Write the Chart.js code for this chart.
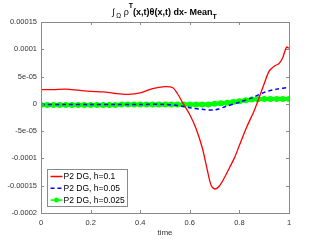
<!DOCTYPE html>
<html>
<head>
<meta charset="utf-8">
<script src="https://cdn.jsdelivr.net/npm/chart.js@4"></script>
<style>
  html, body { margin: 0; padding: 0; background: #fff; }
  #wrap { width: 320px; height: 240px; }
</style>
</head>
<body>
<div id="wrap"><canvas id="myChart" width="320" height="240"></canvas></div>
<script>
const seriesLabels = ["P2 DG, h=0.1", "P2 DG, h=0.05", "P2 DG, h=0.025"];

// h=0.1 (red)
const redX = [0, 0.05, 0.1, 0.15, 0.2, 0.25, 0.3, 0.35, 0.4, 0.45, 0.5, 0.53, 0.55, 0.57, 0.6, 0.625, 0.65, 0.67, 0.685, 0.7, 0.72, 0.74, 0.76, 0.78, 0.8, 0.83, 0.86, 0.88, 0.9, 0.92, 0.94, 0.96, 0.975, 0.99, 1.0];
const redY = [2.6e-5, 2.6e-5, 2.7e-5, 2.5e-5, 2.3e-5, 2.2e-5, 1.9e-5, 1.75e-5, 2.0e-5, 2.8e-5, 3.15e-5, 3.0e-5, 1.9e-5, 0.3e-5, -2.0e-5, -4.5e-5, -8.0e-5, -12.0e-5, -14.8e-5, -15.6e-5, -15.0e-5, -13.5e-5, -11.7e-5, -9.9e-5, -7.6e-5, -4.2e-5, -1.2e-5, 1.2e-5, 3.7e-5, 6.0e-5, 6.9e-5, 7.4e-5, 8.5e-5, 10.4e-5, 10.2e-5];

// h=0.05 (blue dashed)
const blueX = [0, 0.1, 0.2, 0.3, 0.4, 0.5, 0.55, 0.6, 0.65, 0.7, 0.75, 0.8, 0.85, 0.9, 0.95, 1.0];
const blueY = [-0.1e-5, -0.1e-5, -0.1e-5, -0.1e-5, -0.1e-5, -0.1e-5, -0.3e-5, -0.7e-5, -1.0e-5, -1.1e-5, -0.4e-5, 0.3e-5, 1.1e-5, 2.1e-5, 2.7e-5, 3.0e-5];

// h=0.025 (green with markers)
const greenX = [0, 0.025, 0.05, 0.075, 0.1, 0.125, 0.15, 0.175, 0.2, 0.225, 0.25, 0.275, 0.3, 0.325, 0.35, 0.375, 0.4, 0.425, 0.45, 0.475, 0.5, 0.525, 0.55, 0.575, 0.6, 0.625, 0.65, 0.675, 0.7, 0.725, 0.75, 0.775, 0.8, 0.825, 0.85, 0.875, 0.9, 0.925, 0.95, 0.975, 1.0];
const greenY = [-0.2e-5, -0.2e-5, -0.2e-5, -0.2e-5, -0.2e-5, -0.2e-5, -0.2e-5, -0.2e-5, -0.2e-5, -0.2e-5, -0.2e-5, -0.2e-5, -0.2e-5, -0.1e-5, -0.1e-5, -0.1e-5, -0.1e-5, -0.1e-5, -0.1e-5, -0.1e-5, -0.1e-5, -0.1e-5, -0.1e-5, -0.1e-5, -0.1e-5, -0.1e-5, -0.1e-5, -0.1e-5, 0, 0.1e-5, 0.2e-5, 0.35e-5, 0.5e-5, 0.65e-5, 0.8e-5, 0.85e-5, 0.9e-5, 0.9e-5, 0.9e-5, 0.9e-5, 0.9e-5];

const xTicks = [0, 0.2, 0.4, 0.6, 0.8, 1];
const xTickLabels = ["0", "0.2", "0.4", "0.6", "0.8", "1"];
const yTicks = [0.00015, 0.0001, 0.00005, 0, -0.00005, -0.0001, -0.00015, -0.0002];
const yTickLabels = ["0.00015", "0.0001", "5e-05", "0", "-5e-05", "-0.0001", "-0.00015", "-0.0002"];

const FONT = "'Liberation Sans', Arial, Helvetica, sans-serif";
const AXIS_GREY = "#8a8a8a";
const TEXT_GREY = "#333333";

function pts(xs, ys) {
  return xs.map((x, i) => ({ x: x, y: ys[i] }));
}

// box, inward ticks, legend and title
const matlabLook = {
  id: "matlabLook",
  afterDatasetsDraw(chart) {
    const c = chart.ctx;
    const a = chart.chartArea;
    const xs = chart.scales.x;
    const ys = chart.scales.y;
    c.save();
    c.strokeStyle = AXIS_GREY;
    c.lineWidth = 1;
    c.strokeRect(Math.round(a.left) + 0.5, Math.round(a.top) + 0.5, Math.round(a.right - a.left), Math.round(a.bottom - a.top));
    c.beginPath();
    xTicks.forEach(v => {
      const px = Math.round(xs.getPixelForValue(v)) + 0.5;
      c.moveTo(px, a.bottom); c.lineTo(px, a.bottom - 3);
      c.moveTo(px, a.top); c.lineTo(px, a.top + 3);
    });
    yTicks.forEach(v => {
      const py = Math.round(ys.getPixelForValue(v)) + 0.5;
      c.moveTo(a.left, py); c.lineTo(a.left + 3, py);
      c.moveTo(a.right, py); c.lineTo(a.right - 3, py);
    });
    c.stroke();

    // legend
    const lx = 47.5, ly = 169.5, lw = 80, lh = 37;
    c.fillStyle = "#fff";
    c.fillRect(lx, ly, lw, lh);
    c.strokeStyle = AXIS_GREY;
    c.strokeRect(lx, ly, lw, lh);
    c.font = "8.5px " + FONT;
    c.textBaseline = "middle";
    chart.data.datasets.forEach((ds, i) => {
      const yy = ly + 7 + i * 11.8;
      c.strokeStyle = ds.borderColor;
      c.lineWidth = 1.5;
      c.setLineDash(ds.borderDash || []);
      c.beginPath();
      c.moveTo(lx + 3, yy); c.lineTo(lx + 15, yy);
      c.stroke();
      c.setLineDash([]);
      if (i === 2) {
        c.fillStyle = ds.pointBackgroundColor;
        c.beginPath();
        c.arc(lx + 9, yy, 2.5, 0, Math.PI * 2);
        c.fill();
      }
      c.fillStyle = "#000";
      c.fillText(ds.label, lx + 16, yy + 0.5);
    });

    // title with sub/superscripts
    c.fillStyle = "#000";
    c.textBaseline = "alphabetic";
    let tx = 112;
    const base = 15;
    const pieces = [
      { t: "\u222B", f: "9px ", dy: 0 },
      { t: " \u03A9", f: "6.5px ", dy: 3 },
      { t: " \u03C1", f: "9px ", dy: 0 },
      { t: "T", f: "bold 7px ", dy: -7 },
      { t: "(x,t)\u03B8(x,t) dx- Mean", f: "bold 9px ", dy: 0 },
      { t: "T", f: "bold 7px ", dy: 4 }
    ];
    pieces.forEach(p => {
      c.font = p.f + FONT;
      c.fillText(p.t, tx, base + p.dy);
      tx += c.measureText(p.t).width;
    });
    c.restore();
  }
};

new Chart(document.getElementById("myChart"), {
  type: "line",
  data: {
    datasets: [
      {
        label: seriesLabels[0],
        data: pts(redX, redY),
        borderColor: "#ff0000",
        borderWidth: 1.3,
        pointRadius: 0,
        tension: 0.3
      },
      {
        label: seriesLabels[1],
        data: pts(blueX, blueY),
        borderColor: "#0000ff",
        borderWidth: 1.5,
        borderDash: [4, 3],
        pointRadius: 0,
        tension: 0.3
      },
      {
        label: seriesLabels[2],
        data: pts(greenX, greenY),
        borderColor: "#00ff00",
        backgroundColor: "#00ff00",
        pointBackgroundColor: "#00ff00",
        pointBorderColor: "#00ff00",
        borderWidth: 4,
        pointRadius: 3,
        pointBorderWidth: 0,
        tension: 0.3
      }
    ]
  },
  options: {
    responsive: false,
    animation: false,
    layout: { padding: { top: 22, right: 31, left: 0, bottom: 0 } },
    plugins: {
      legend: { display: false },
      title: { display: false },
      tooltip: { enabled: false }
    },
    scales: {
      x: {
        type: "linear",
        min: 0,
        max: 1,
        grid: { display: false, drawTicks: false, tickLength: 0 },
        border: { display: false },
        afterBuildTicks: s => { s.ticks = xTicks.map(v => ({ value: v })); },
        afterFit: s => { s.height = 27; },
        ticks: {
          padding: 5,
          maxRotation: 0,
          color: TEXT_GREY,
          font: { size: 7.5, family: FONT },
          callback: (v, i) => xTickLabels[i]
        },
        title: {
          display: true,
          text: "time",
          color: TEXT_GREY,
          font: { size: 8, family: FONT },
          padding: { top: 0, bottom: 2 }
        }
      },
      y: {
        type: "linear",
        min: -0.0002,
        max: 0.00015,
        grid: { display: false, drawTicks: false, tickLength: 0 },
        border: { display: false },
        afterBuildTicks: s => { s.ticks = yTicks.map(v => ({ value: v })); },
        afterFit: s => { s.width = 41; },
        ticks: {
          padding: 4,
          color: TEXT_GREY,
          font: { size: 7.5, family: FONT },
          callback: (v, i) => yTickLabels[i]
        }
      }
    }
  },
  plugins: [matlabLook]
});
</script>
</body>
</html>
